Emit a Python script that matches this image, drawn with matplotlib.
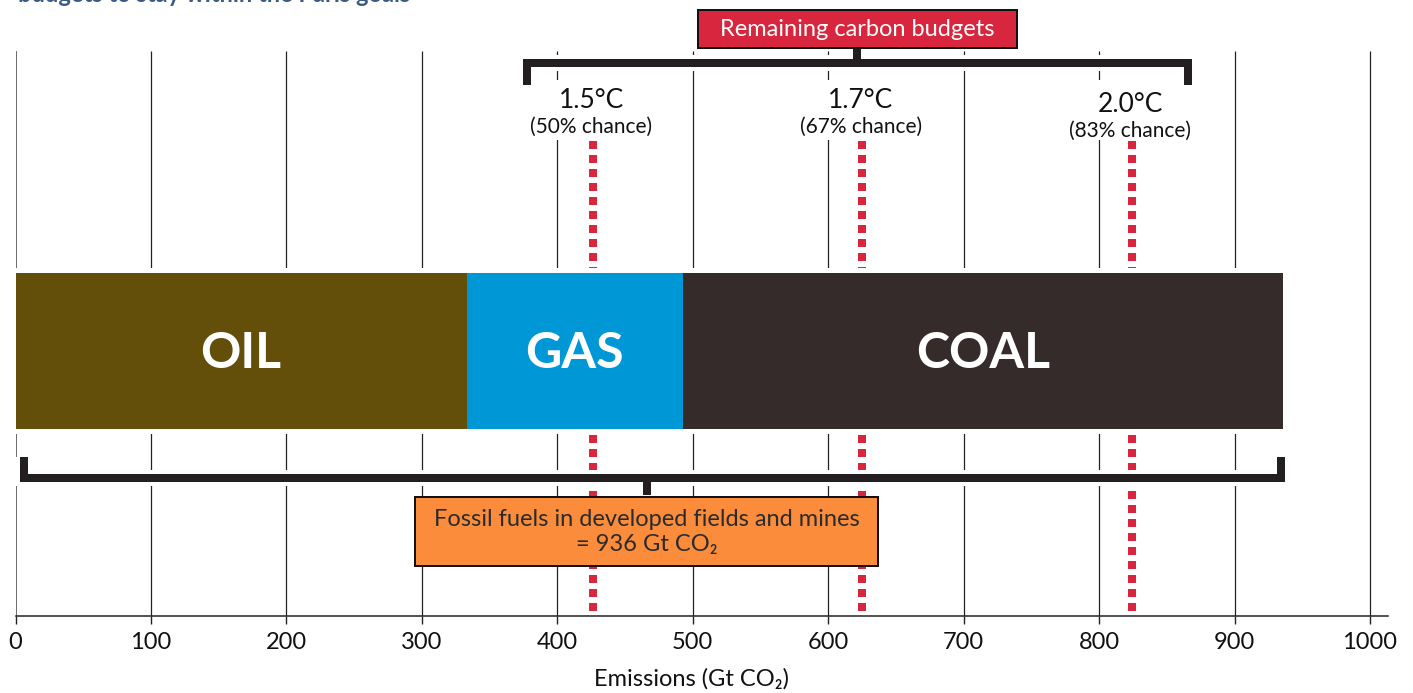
import matplotlib
matplotlib.use("Agg")
import matplotlib.pyplot as plt
from matplotlib.patches import Rectangle

plt.rcParams["font.family"] = ["Lato", "DejaVu Sans"]

# data
fuels = ["OIL", "GAS", "COAL"]
fuel_values = [333, 160, 443]          # Gt CO2, developed fields and mines
fuel_colors = ["#634f0a", "#0097d6", "#352b2a"]

temps = ["1.5°C", "1.7°C", "2.0°C"]
chances = ["(50% chance)", "(67% chance)", "(83% chance)"]
budgets = [426, 625, 824]              # remaining carbon budgets, Gt CO2

ticks = list(range(0, 1001, 100))

PX = 0.72  # points per pixel at dpi 100
RED = "#d7263d"
ORANGE = "#fb8c3c"
INK = "#231f20"

fig = plt.figure(figsize=(14.13, 6.93), dpi=100)
# y axis is in pixel rows from the top, for layout only
ax = fig.add_axes([15.5 / 1413, 77 / 693, (1388 - 15.5) / 1413, 616 / 693])
ax.set_xlim(0, 1013.3)
ax.set_ylim(616, 0)
for side in ["top", "right", "left"]:
    ax.spines[side].set_visible(False)
ax.spines["bottom"].set_color("#222222")
ax.spines["bottom"].set_linewidth(1.1)
ax.set_yticks([])
ax.set_xticks(ticks)
ax.tick_params(axis="x", length=8 * PX, width=1.0, color="#222222",
               pad=6, labelsize=17, labelcolor="#111111")

# grid
ax.vlines(ticks[1:], 51, 616, color="#222222", lw=0.9, zorder=1)
ax.vlines(0, 51, 616, color="#6a6a6a", lw=1.4, zorder=1)

# budget lines
ax.vlines(budgets, 141, 613, color=RED, lw=8 * PX,
          linestyles=[(0, (1.0, 0.75))], zorder=2)

# stacked bar
total = sum(fuel_values)
bar_y, bar_h = 351, 156
ax.barh(bar_y, total + 3, height=bar_h + 10, left=0, color="white", zorder=3)
left = 0
for name, val, col in zip(fuels, fuel_values, fuel_colors):
    ax.barh(bar_y, val, height=bar_h, left=left, color=col, zorder=4)
    ax.text(left + val / 2, bar_y + 3, name, ha="center", va="center",
            fontsize=36, fontweight="bold", color="white", zorder=5)
    left += val

# temperature labels
for i, (b, t, c) in enumerate(zip(budgets, temps, chances)):
    dy = 4 if i == 2 else 0
    ax.add_patch(Rectangle((b - 51, 80), 102, 60, facecolor="white",
                           edgecolor="none", zorder=3))
    ax.text(b - 1, 101 + dy, t, ha="center", va="center", fontsize=19,
            color="#111111", zorder=5)
    ax.text(b - 1, 127 + dy, c, ha="center", va="center", fontsize=15,
            color="#111111", zorder=5)


def bracket(xs, ys, tick_x, tick_y):
    # white halo first, then the black strokes, so joins stay clean
    for lw, col, z in [(16 * PX, "white", 5.5), (8 * PX, INK, 6)]:
        ax.plot(xs, ys, color=col, lw=lw, solid_capstyle="butt",
                solid_joinstyle="miter", zorder=z)
        ax.plot([tick_x, tick_x], tick_y, color=col, lw=lw,
                solid_capstyle="butt", zorder=z)


# top bracket: remaining carbon budgets
x0, x1 = budgets[0] - 48.5, budgets[-1] + 41.5
mid_top = 621.6
bracket([x0, x0, x1, x1], [85, 63, 63, 85], mid_top, [63, 48])
ax.add_patch(Rectangle((503.9, 10), 235.5, 38, facecolor=RED,
                       edgecolor="#111111", lw=2 * PX, zorder=7))
ax.text(mid_top, 30, "Remaining carbon budgets", ha="center", va="center",
        fontsize=17, color="white", zorder=8)

# bottom bracket: fossil fuels in developed fields and mines
x0, x1 = 6.3, total - 1.7
mid_bot = 466
bracket([x0, x0, x1, x1], [457, 478, 478, 457], mid_bot, [478, 495])
ax.add_patch(Rectangle((294.9, 497), 341.9, 69, facecolor=ORANGE,
                       edgecolor="#111111", lw=2 * PX, zorder=7))
ax.text(mid_bot, 519, "Fossil fuels in developed fields and mines",
        ha="center", va="center", fontsize=17, color="#2b2b2b", zorder=8)
ax.text(mid_bot, 545, f"= {total} Gt CO\u2082", ha="center", va="center",
        fontsize=17, color="#2b2b2b", zorder=8)

ax.set_xlabel("Emissions (Gt CO\u2082)", fontsize=17, color="#111111")
ax.xaxis.set_label_coords(499 / 1013.3, -0.085)

fig.text(18 / 1413, 1 - 1.5 / 693, "budgets to stay within the Paris goals",
         ha="left", va="baseline", fontsize=17, fontweight="bold",
         color="#3b5a84")

fig.savefig("out.png", dpi=100)
plt.close(fig)
